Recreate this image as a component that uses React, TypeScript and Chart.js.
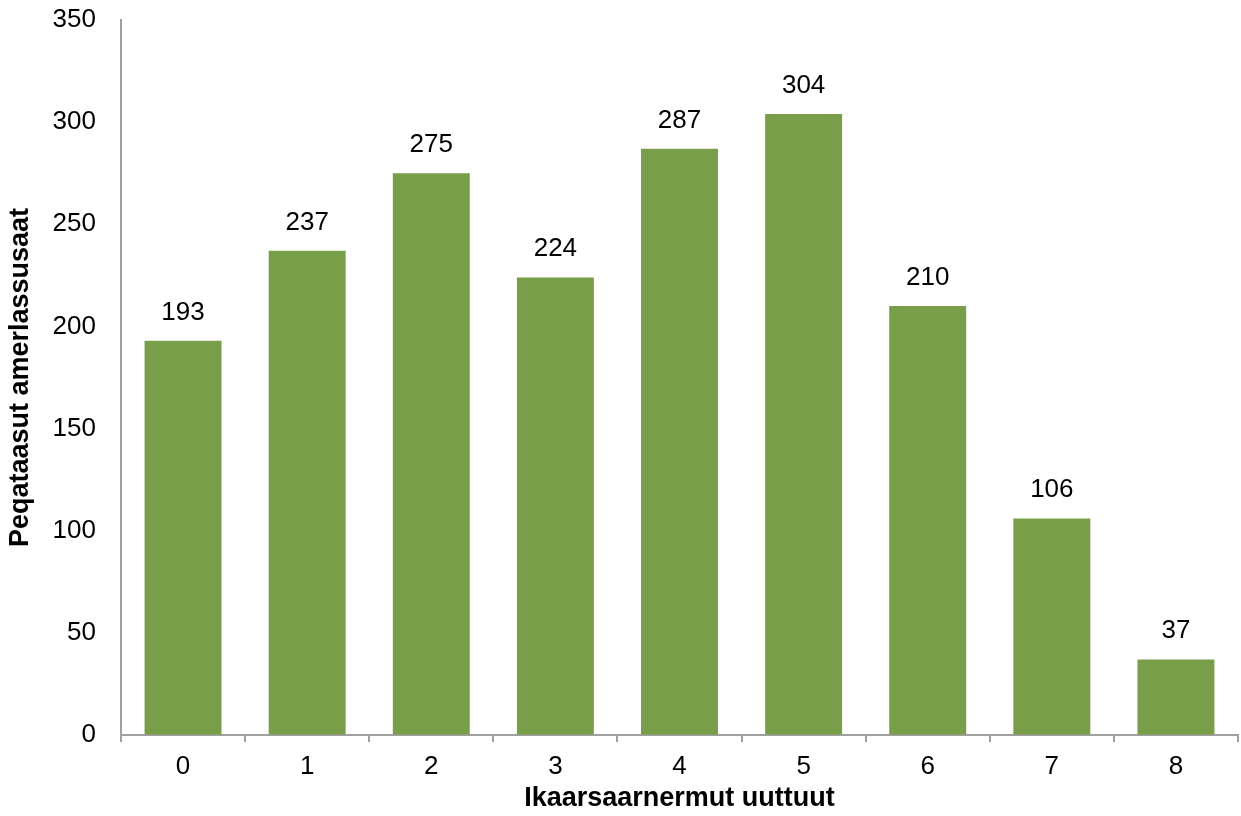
import React, { useEffect, useRef } from "react";
import { Chart, registerables } from "chart.js";

Chart.register(...registerables);

const categories = ["0", "1", "2", "3", "4", "5", "6", "7", "8"];
const values = [193, 237, 275, 224, 287, 304, 210, 106, 37];
const yTitle = "Peqataasut amerlassusaat";
const xTitle = "Ikaarsaarnermut uuttuut";

const FONT = "'Liberation Sans', Arial, sans-serif";
const AXIS = "#A0A0A0";

const labelPlugin = {
  id: "valueLabels",
  afterDatasetsDraw(chart: any) {
    const ctx = chart.ctx;
    const meta = chart.getDatasetMeta(0);
    ctx.save();
    ctx.font = `26px ${FONT}`;
    ctx.fillStyle = "#000";
    ctx.textAlign = "center";
    ctx.textBaseline = "alphabetic";
    meta.data.forEach((bar: any, i: number) => {
      ctx.fillText(String(values[i]), bar.x, bar.y - 21);
    });
    ctx.restore();
  },
};

export default function App() {
  const ref = useRef<HTMLCanvasElement | null>(null);
  useEffect(() => {
    if (!ref.current) return;
    const chart = new Chart(ref.current, {
      type: "bar",
      data: {
        labels: categories,
        datasets: [
          {
            data: values,
            backgroundColor: "#789E4A",
            borderWidth: 0,
            categoryPercentage: 1,
            barPercentage: 0.62,
          },
        ],
      },
      options: {
        animation: false,
        responsive: true,
        maintainAspectRatio: false,
        layout: { padding: { top: 20, right: 3, bottom: 0, left: 0 } },
        plugins: { legend: { display: false }, tooltip: { enabled: false } },
        scales: {
          x: {
            grid: {
              display: true,
              drawOnChartArea: false,
              drawTicks: true,
              tickLength: 7,
              color: AXIS,
              lineWidth: 2,
              offset: true,
            },
            border: { display: true, color: AXIS, width: 2 },
            ticks: { color: "#000", font: { family: FONT, size: 26 }, padding: 9 },
            title: {
              display: true,
              text: xTitle,
              color: "#000",
              font: { family: FONT, size: 27, weight: "bold" },
              padding: { top: 0, bottom: 1 },
            },
            afterFit: (s: any) => {
              s.height = 81;
            },
          },
          y: {
            min: 0,
            max: 350,
            ticks: { stepSize: 50, color: "#000", font: { family: FONT, size: 26 }, padding: 25 },
            grid: { display: true, drawOnChartArea: false, drawTicks: false },
            border: { display: true, color: AXIS, width: 2 },
            title: {
              display: true,
              text: yTitle,
              color: "#000",
              font: { family: FONT, size: 27, weight: "bold" },
              padding: { top: 4, bottom: 0 },
            },
            afterFit: (s: any) => {
              s.width = 121;
              s.paddingTop = 0;
              s.paddingBottom = 0;
            },
          },
        },
      },
      plugins: [labelPlugin],
    });
    return () => chart.destroy();
  }, []);
  return (
    <div style={{ position: "fixed", left: 0, top: 0, width: 1241, height: 816, background: "#fff" }}>
      <canvas ref={ref} />
    </div>
  );
}
